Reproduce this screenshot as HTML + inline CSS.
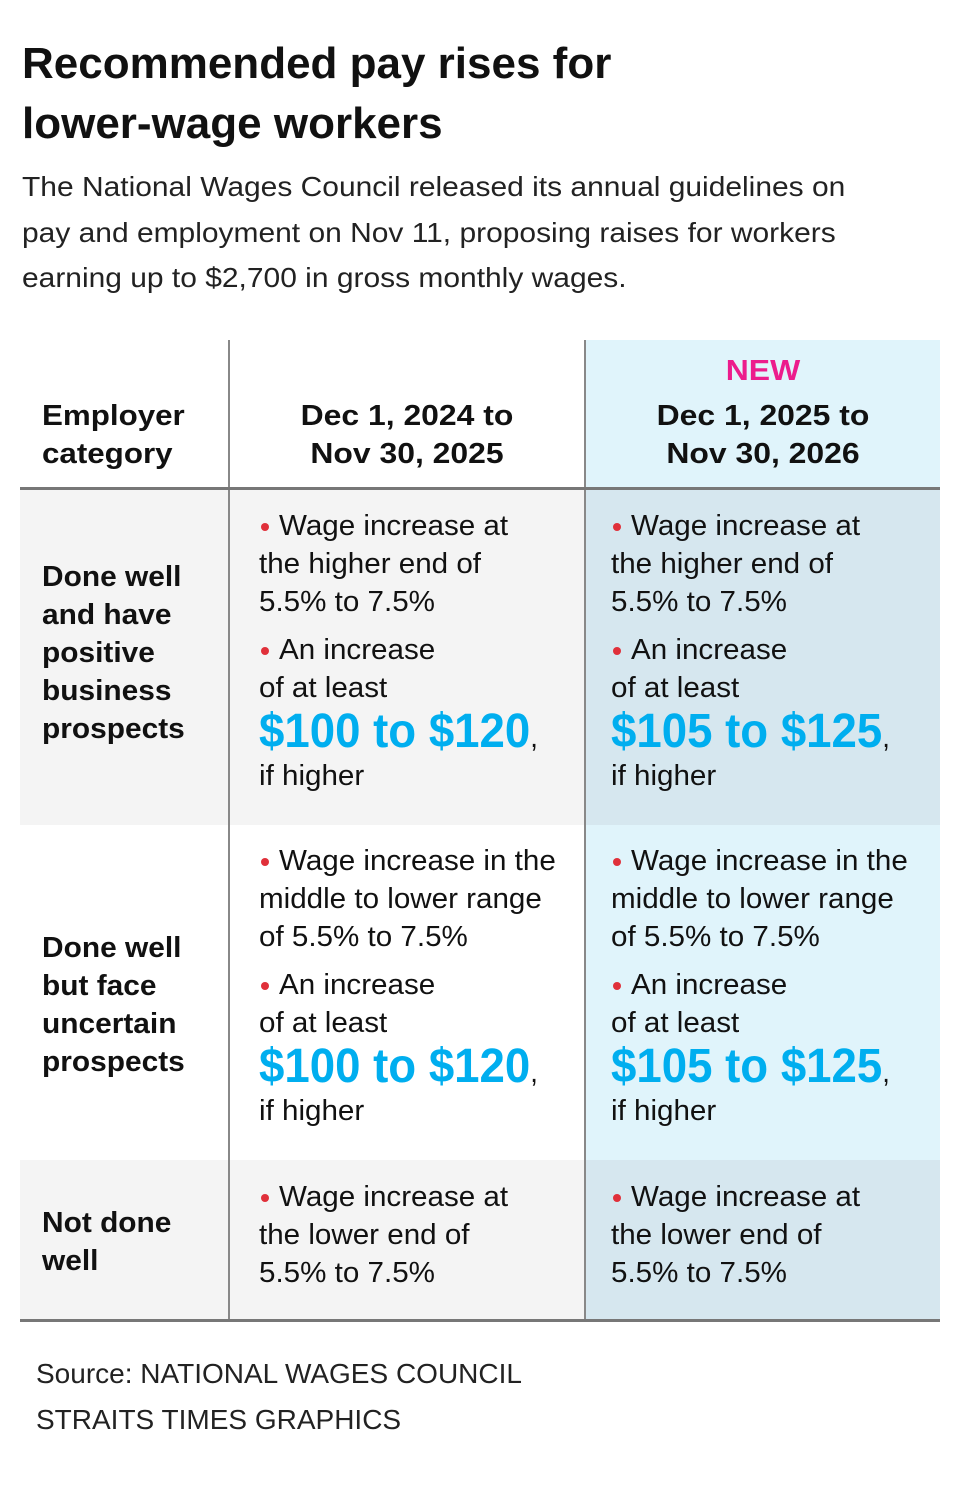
<!DOCTYPE html>
<html><head><meta charset="utf-8"><style>
*{margin:0;padding:0;box-sizing:border-box}
body{width:960px;height:1486px;background:#fff;position:relative;font-family:"Liberation Sans",sans-serif;color:#111;overflow:hidden}
.t{position:absolute;white-space:nowrap;transform-origin:left center;line-height:38px;height:38px}
.b{font-size:29px;transform:scaleX(1.02)}
.h{font-size:29px;font-weight:bold;transform:scaleX(1.03)}
.big{font-size:48px;font-weight:bold;color:#00aeef;line-height:54px;height:54px;transform:scaleX(0.95)}
.big span{color:#111;font-weight:normal;font-size:29px}
.dot{position:absolute;width:8px;height:8px;border-radius:50%;background:#e0303a}
.r{position:absolute}
.c{transform-origin:center center;text-align:center}
</style></head><body>
<div class="t" style="left:22px;top:38px;font-size:44px;font-weight:bold;line-height:52px;height:52px;transform:scaleX(1.0)">Recommended pay rises for</div>
<div class="t" style="left:22px;top:98px;font-size:44px;font-weight:bold;line-height:52px;height:52px;transform:scaleX(1.0)">lower-wage workers</div>
<div class="t" style="left:22px;top:168px;font-size:28px;color:#222;transform:scaleX(1.07)">The National Wages Council released its annual guidelines on</div>
<div class="t" style="left:22px;top:214px;font-size:28px;color:#222;transform:scaleX(1.07)">pay and employment on Nov 11, proposing raises for workers</div>
<div class="t" style="left:22px;top:259px;font-size:28px;color:#222;transform:scaleX(1.07)">earning up to $2,700 in gross monthly wages.</div>

<div class="r" style="left:586px;top:340px;width:354px;height:149px;background:#e0f4fb"></div>
<div class="r" style="left:20px;top:489px;width:920px;height:336px;background:#f4f4f4"></div>
<div class="r" style="left:586px;top:489px;width:354px;height:336px;background:#d6e7ef"></div>
<div class="r" style="left:586px;top:825px;width:354px;height:335px;background:#e0f4fb"></div>
<div class="r" style="left:20px;top:1160px;width:920px;height:160px;background:#f4f4f4"></div>
<div class="r" style="left:586px;top:1160px;width:354px;height:160px;background:#d6e7ef"></div>
<div class="r" style="left:228px;top:340px;width:2px;height:980px;background:#888"></div>
<div class="r" style="left:584px;top:340px;width:2px;height:980px;background:#888"></div>
<div class="r" style="left:20px;top:487px;width:920px;height:3px;background:#777"></div>
<div class="r" style="left:20px;top:1319px;width:920px;height:3px;background:#777"></div>

<div class="t h" style="left:42px;top:397px;transform:scaleX(1.08)">Employer</div>
<div class="t h" style="left:42px;top:435px;transform:scaleX(1.08)">category</div>
<div class="t h c" style="left:230px;width:354px;top:397px;transform:scaleX(1.1)">Dec 1, 2024 to</div>
<div class="t h c" style="left:230px;width:354px;top:435px;transform:scaleX(1.1)">Nov 30, 2025</div>
<div class="t h c" style="left:586px;width:354px;top:352px;color:#ec1c8c;transform:scaleX(1.1)">NEW</div>
<div class="t h c" style="left:586px;width:354px;top:397px;transform:scaleX(1.1)">Dec 1, 2025 to</div>
<div class="t h c" style="left:586px;width:354px;top:435px;transform:scaleX(1.1)">Nov 30, 2026</div>

<div class="t h" style="left:42px;top:558px">Done well</div>
<div class="t h" style="left:42px;top:596px">and have</div>
<div class="t h" style="left:42px;top:634px">positive</div>
<div class="t h" style="left:42px;top:672px">business</div>
<div class="t h" style="left:42px;top:710px">prospects</div>
<div class="t h" style="left:42px;top:929px">Done well</div>
<div class="t h" style="left:42px;top:967px">but face</div>
<div class="t h" style="left:42px;top:1005px">uncertain</div>
<div class="t h" style="left:42px;top:1043px">prospects</div>
<div class="t h" style="left:42px;top:1204px">Not done</div>
<div class="t h" style="left:42px;top:1242px">well</div>

<div class="dot" style="left:261px;top:523px"></div>
<div class="t b" style="left:279px;top:507px">Wage increase at</div>
<div class="t b" style="left:259px;top:545px">the higher end of</div>
<div class="t b" style="left:259px;top:583px">5.5% to 7.5%</div>
<div class="dot" style="left:261px;top:647px"></div>
<div class="t b" style="left:279px;top:631px">An increase</div>
<div class="t b" style="left:259px;top:669px">of at least</div>
<div class="t big" style="left:259px;top:705px">$100 to $120<span>,</span></div>
<div class="t b" style="left:259px;top:757px">if higher</div>
<div class="dot" style="left:613px;top:523px"></div>
<div class="t b" style="left:631px;top:507px">Wage increase at</div>
<div class="t b" style="left:611px;top:545px">the higher end of</div>
<div class="t b" style="left:611px;top:583px">5.5% to 7.5%</div>
<div class="dot" style="left:613px;top:647px"></div>
<div class="t b" style="left:631px;top:631px">An increase</div>
<div class="t b" style="left:611px;top:669px">of at least</div>
<div class="t big" style="left:611px;top:705px">$105 to $125<span>,</span></div>
<div class="t b" style="left:611px;top:757px">if higher</div>
<div class="dot" style="left:261px;top:858px"></div>
<div class="t b" style="left:279px;top:842px">Wage increase in the</div>
<div class="t b" style="left:259px;top:880px">middle to lower range</div>
<div class="t b" style="left:259px;top:918px">of 5.5% to 7.5%</div>
<div class="dot" style="left:261px;top:982px"></div>
<div class="t b" style="left:279px;top:966px">An increase</div>
<div class="t b" style="left:259px;top:1004px">of at least</div>
<div class="t big" style="left:259px;top:1040px">$100 to $120<span>,</span></div>
<div class="t b" style="left:259px;top:1092px">if higher</div>
<div class="dot" style="left:613px;top:858px"></div>
<div class="t b" style="left:631px;top:842px">Wage increase in the</div>
<div class="t b" style="left:611px;top:880px">middle to lower range</div>
<div class="t b" style="left:611px;top:918px">of 5.5% to 7.5%</div>
<div class="dot" style="left:613px;top:982px"></div>
<div class="t b" style="left:631px;top:966px">An increase</div>
<div class="t b" style="left:611px;top:1004px">of at least</div>
<div class="t big" style="left:611px;top:1040px">$105 to $125<span>,</span></div>
<div class="t b" style="left:611px;top:1092px">if higher</div>
<div class="dot" style="left:261px;top:1194px"></div>
<div class="t b" style="left:279px;top:1178px">Wage increase at</div>
<div class="t b" style="left:259px;top:1216px">the lower end of</div>
<div class="t b" style="left:259px;top:1254px">5.5% to 7.5%</div>
<div class="dot" style="left:613px;top:1194px"></div>
<div class="t b" style="left:631px;top:1178px">Wage increase at</div>
<div class="t b" style="left:611px;top:1216px">the lower end of</div>
<div class="t b" style="left:611px;top:1254px">5.5% to 7.5%</div>

<div class="t" style="left:36px;top:1355px;font-size:28px;color:#222;transform:scaleX(1.0)">Source: NATIONAL WAGES COUNCIL</div>
<div class="t" style="left:36px;top:1401px;font-size:28px;color:#222;transform:scaleX(1.0)">STRAITS TIMES GRAPHICS</div>
</body></html>
